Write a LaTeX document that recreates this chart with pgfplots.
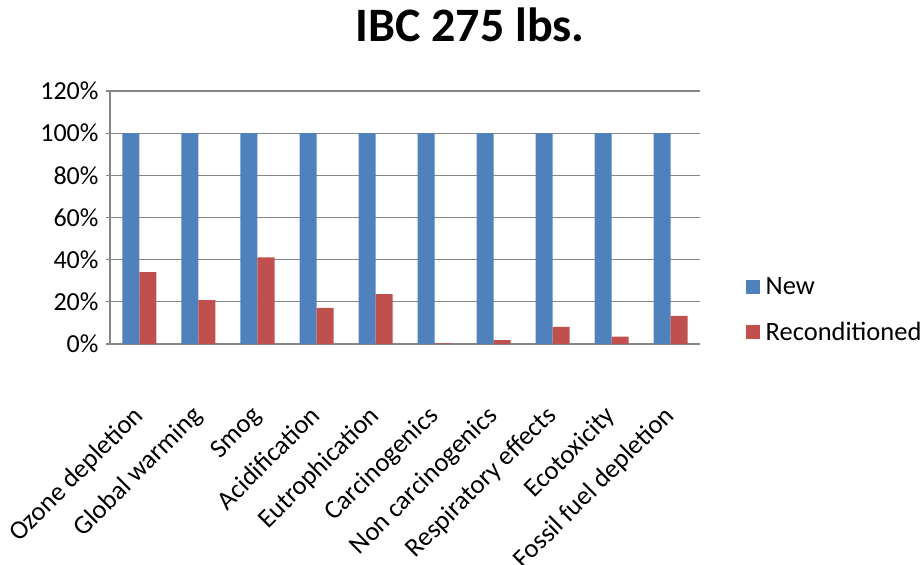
\documentclass[border=0pt]{standalone}
\usepackage{pgfplots}
\pgfplotsset{compat=1.18}
\usepackage{fontspec}
\setmainfont{Carlito}
\definecolor{newblue}{HTML}{4F81BD}
\definecolor{recred}{HTML}{C0504D}
\definecolor{gridgray}{HTML}{868686}

\begin{document}
\begin{tikzpicture}
\begin{axis}[
  name=ax,
  scale only axis,
  width=590bp, height=253bp,
  xmin=-0.5, xmax=9.5,
  ymin=0, ymax=120,
  ytick={0,20,...,120},
  yticklabel={\pgfmathprintnumber{\tick}\%},
  /pgf/number format/assume math mode=true,
  xtick={0,...,9},
  xticklabels={Ozone depletion, Global warming, Smog, Acidification, Eutrophication,
    Carcinogenics, Non carcinogenics, Respiratory effects, Ecotoxicity, Fossil fuel depletion},
  ybar=0pt, bar width=17bp,
  axis x line*=bottom, axis y line*=left,
  axis line style={gridgray, line width=1.2bp, -},
  ymajorgrids, grid style={gridgray, line width=1.2bp},
  major x tick style={draw=none},
  major y tick style={gridgray, line width=1.2bp},
  tick align=outside, major tick length=4bp,
  tick label style={font=\fontsize{26bp}{30bp}\selectfont},
  yticklabel style={xshift=-4bp},
  xticklabel style={xshift=5bp, yshift=-69bp, rotate=45, anchor=base east, inner sep=0pt,
    font=\fontsize{26.5bp}{30bp}\selectfont},
  title={IBC 275 lbs.},
  title style={font=\bfseries\fontsize{48bp}{52bp}\selectfont, at={(0.61,1.174)}, anchor=base},
  legend style={at={(1.072,0.134)}, anchor=west, draw=none, fill=none,
    font=\fontsize{26.5bp}{30bp}\selectfont, row sep=20bp,
    nodes={inner sep=3bp}},
  legend cell align=left,
  % square key with a little room before the entry text
  legend image code/.code={\fill[#1] (0bp,-7bp) rectangle (14bp,7bp); \path (17bp,0bp);},
]
\addplot[fill=newblue, draw=none] coordinates {
  (0,100) (1,100) (2,100) (3,100) (4,100) (5,100) (6,100) (7,100) (8,100) (9,100)};
\addplot[fill=recred, draw=none] coordinates {
  (0,34.1) (1,20.8) (2,41.1) (3,17.1) (4,23.7) (5,0.3) (6,1.8) (7,8.1) (8,3.5) (9,13.3)};
\legend{New, Reconditioned}
\end{axis}
\pgfresetboundingbox
\path ([shift={(-110bp,-221bp)}]ax.south west) rectangle ([shift={(814bp,344bp)}]ax.south west);
\end{tikzpicture}
\end{document}
